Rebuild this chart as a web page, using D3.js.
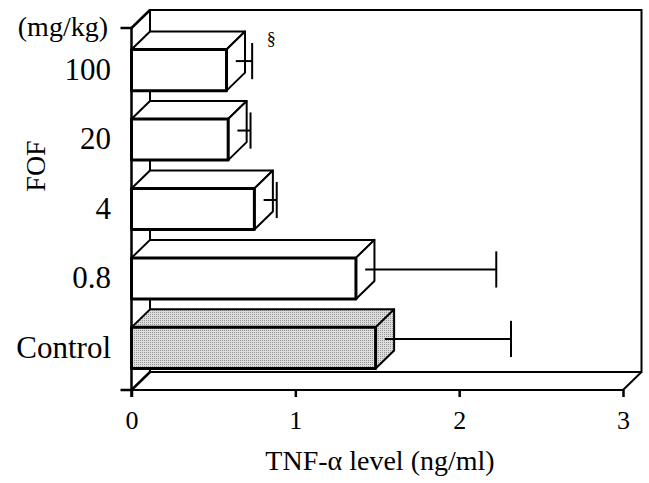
<!DOCTYPE html>
<html>
<head>
<meta charset="utf-8">
<script src="https://cdn.jsdelivr.net/npm/d3@7"></script>
<style>
  body { margin: 0; background: #fff; }
  svg { display: block; font-family: "Liberation Serif", "Times New Roman", serif; }
</style>
</head>
<body>
<div id="chart"></div>
<script>
// dose groups, top to bottom
const doses = ["100", "20", "4", "0.8", "Control"];
const meanLevels = [0.58, 0.59, 0.75, 1.37, 1.49];
const sdLevels = [0.10, 0.08, 0.08, 0.80, 0.77];
const marks = ["§", "", "", "", ""];
const xTicks = [0, 1, 2, 3];

const W = 649, H = 483;
const DX = 18.5, DY = -18; // depth offset of the 3D box
const yTop = 28, yBottom = 390;

const svg = d3.select("#chart").append("svg")
  .attr("width", W)
  .attr("height", H);

const defs = svg.append("defs");
const pat = defs.append("pattern")
  .attr("id", "stipple")
  .attr("patternUnits", "userSpaceOnUse")
  .attr("width", 2).attr("height", 2);
pat.append("rect").attr("width", 2).attr("height", 2).attr("fill", "#dedede");
pat.append("rect").attr("width", 1).attr("height", 1).attr("fill", "#949494");

const x = d3.scaleLinear().domain([0, 3]).range([131.5, 623]);
const y = d3.scaleBand()
  .domain(doses)
  .range([yTop, yBottom])
  .paddingInner(0.408)
  .paddingOuter(0.31);

const data = doses.map((d, i) => ({ dose: d, mean: meanLevels[i], sd: sdLevels[i], mark: marks[i] }));

const x0 = x(0), x3 = x(3);

// back wall + floor frame
const frame = svg.append("g")
  .attr("fill", "none")
  .attr("stroke", "#000");

frame.append("path")
  .attr("stroke-width", 2)
  .attr("d", `M${x0 + DX},${yBottom + DY} V${yTop + DY} H${x3 + DX} V${yBottom + DY} H${x0 + DX}`);

frame.append("path")
  .attr("stroke-width", 2)
  .attr("d", `M${x0},${yBottom} H${x3} L${x3 + DX},${yBottom + DY}`);

frame.append("path")
  .attr("stroke-width", 2.5)
  .attr("d", `M${x0},${yBottom} L${x0 + DX},${yBottom + DY} M${x0},${yTop} L${x0 + DX},${yTop + DY}`);

// bars
const bars = svg.append("g")
  .selectAll("g")
  .data(data)
  .join("g")
  .attr("stroke", "#000")
  .attr("stroke-linejoin", "round")
  .attr("fill", d => d.dose === "Control" ? "url(#stipple)" : "#fff");

bars.append("path")
  .attr("stroke-width", 2)
  .attr("d", d => {
    const t = y(d.dose), xv = x(d.mean);
    return `M${x0},${t} L${x0 + DX},${t + DY} H${xv + DX} L${xv},${t} Z`;
  });

bars.append("path")
  .attr("stroke-width", 2)
  .attr("d", d => {
    const t = y(d.dose), b = t + y.bandwidth(), xv = x(d.mean);
    return `M${xv},${t} L${xv + DX},${t + DY} V${b + DY} L${xv},${b} Z`;
  });

bars.append("rect")
  .attr("stroke-width", 3)
  .attr("x", x0)
  .attr("y", d => y(d.dose))
  .attr("width", d => x(d.mean) - x0)
  .attr("height", y.bandwidth());

// error bars at mid depth
const err = svg.append("g")
  .attr("stroke", "#000")
  .attr("stroke-width", 2)
  .selectAll("g")
  .data(data)
  .join("g");

const midY = d => y(d.dose) + y.bandwidth() / 2 + DY / 2;
const capH = y.bandwidth() * 0.44;

err.append("line")
  .attr("x1", d => x(d.mean) + DX / 2)
  .attr("x2", d => x(d.mean + d.sd) + DX / 2)
  .attr("y1", midY)
  .attr("y2", midY);

err.append("line")
  .attr("x1", d => x(d.mean + d.sd) + DX / 2)
  .attr("x2", d => x(d.mean + d.sd) + DX / 2)
  .attr("y1", d => midY(d) - capH)
  .attr("y2", d => midY(d) + capH);

svg.append("g")
  .selectAll("text")
  .data(data.filter(d => d.mark))
  .join("text")
  .attr("x", d => x(d.mean + d.sd) + DX / 2 + 19)
  .attr("y", d => y(d.dose) - 5)
  .attr("text-anchor", "middle")
  .attr("font-size", 18)
  .text(d => d.mark);

// left axis
const yAxis = svg.append("g")
  .attr("transform", `translate(${x0},0)`)
  .call(d3.axisLeft(y).tickSize(0).tickPadding(20.5));
yAxis.select(".domain").remove();
yAxis.selectAll("text")
  .attr("font-size", 31)
  .attr("font-family", "Liberation Serif, serif")
  .attr("fill", "#000");

svg.append("path")
  .attr("fill", "none")
  .attr("stroke", "#000")
  .attr("stroke-width", 2.5)
  .attr("d", `M${x0},${yTop} V${yBottom + 7} M${x0 - 11},${yTop} H${x0} M${x0 - 11},${yBottom} H${x0}`);

svg.append("text")
  .attr("x", 108)
  .attr("y", 36)
  .attr("text-anchor", "end")
  .attr("font-size", 28)
  .text("(mg/kg)");

svg.append("text")
  .attr("transform", "translate(45,166) rotate(-90)")
  .attr("text-anchor", "middle")
  .attr("font-size", 28)
  .text("FOF");

// bottom axis
const xAxis = svg.append("g")
  .attr("transform", `translate(0,${yBottom})`)
  .call(d3.axisBottom(x).tickValues(xTicks).tickFormat(d3.format("d")).tickSize(7).tickPadding(14));
xAxis.select(".domain").remove();
xAxis.selectAll("line").attr("stroke", "#000").attr("stroke-width", 2.5);
xAxis.selectAll("text")
  .attr("font-size", 26)
  .attr("font-family", "Liberation Serif, serif")
  .attr("fill", "#000");

svg.append("text")
  .attr("x", 380)
  .attr("y", 470)
  .attr("text-anchor", "middle")
  .attr("font-size", 28)
  .text("TNF-α level (ng/ml)");
</script>
</body>
</html>
